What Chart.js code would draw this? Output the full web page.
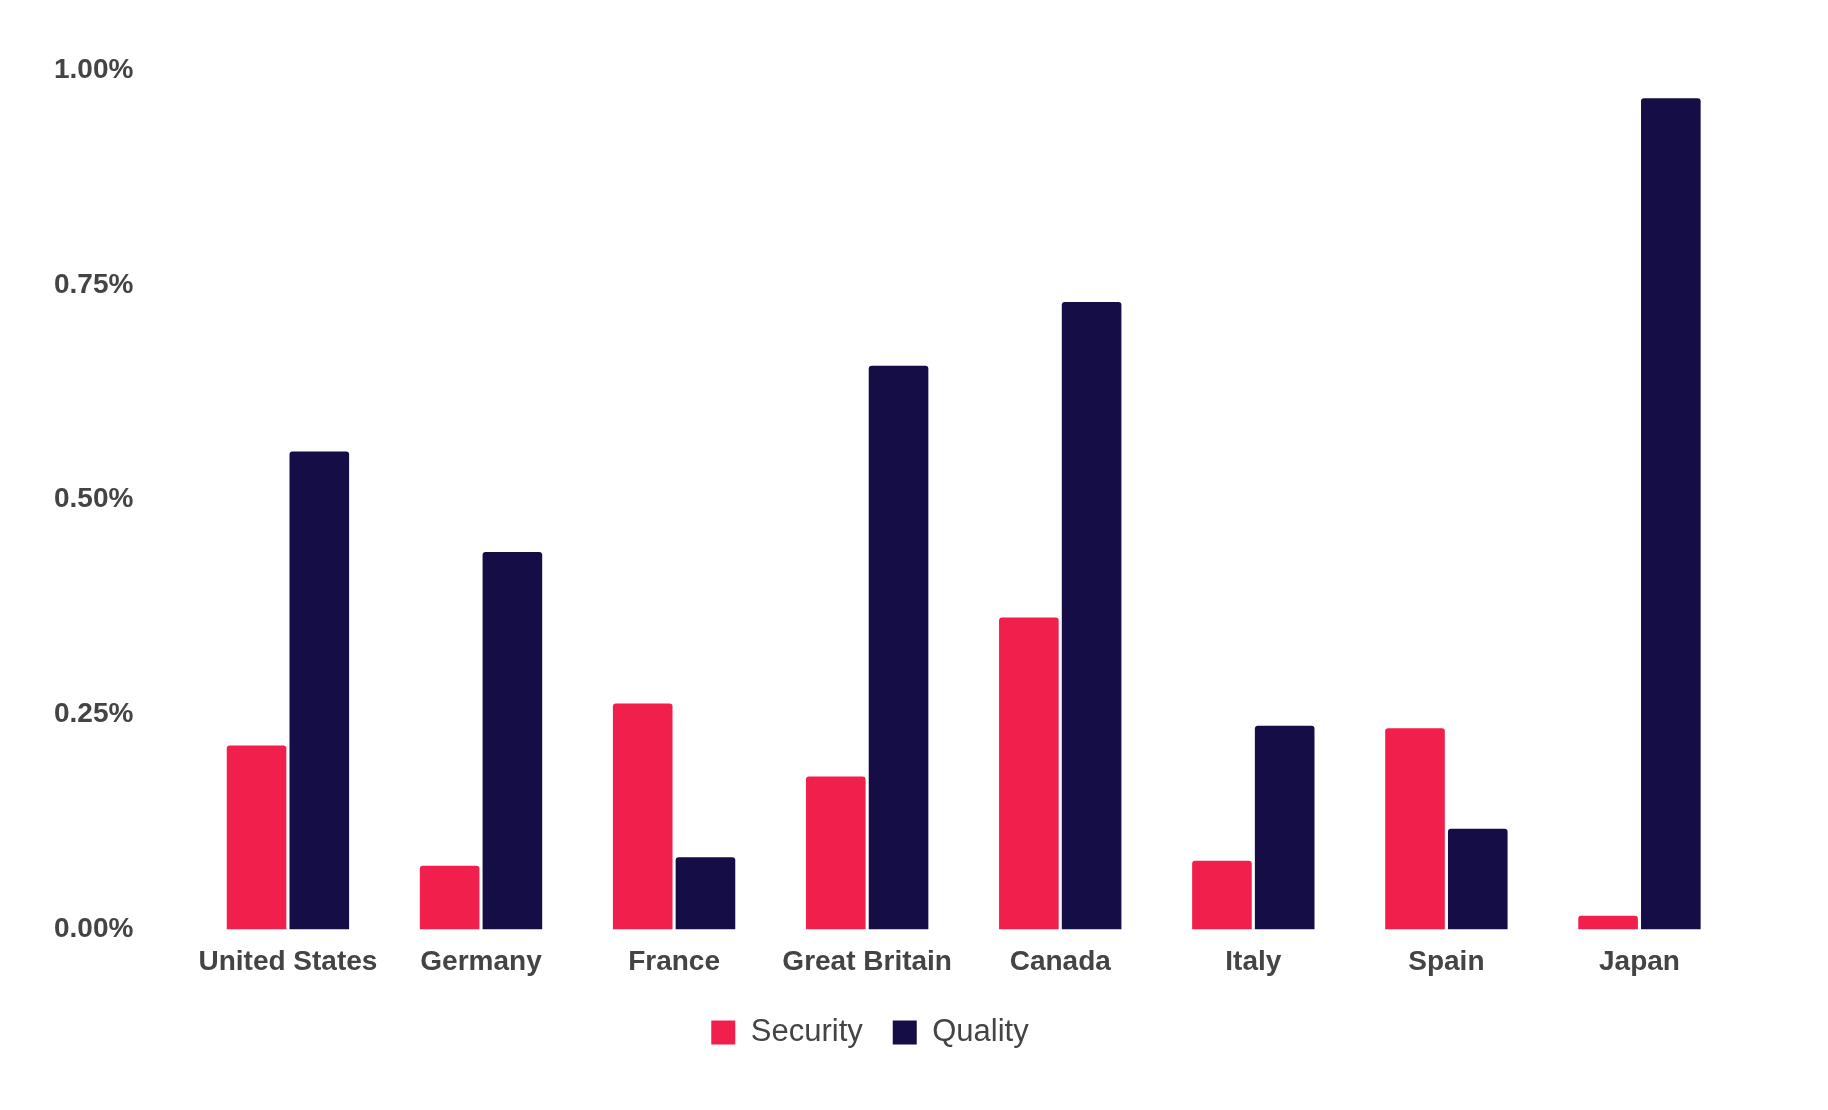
<!DOCTYPE html>
<html>
<head>
<meta charset="utf-8">
<script src="https://cdn.jsdelivr.net/npm/chart.js@4"></script>
<style>
  html, body { margin: 0; background: #fff; }
  #wrap { width: 1828px; height: 1110px; }
</style>
</head>
<body>
<div id="wrap"><canvas id="chart"></canvas></div>
<script>
// Data
const countries = ['United States', 'Germany', 'France', 'Great Britain', 'Canada', 'Italy', 'Spain', 'Japan'];
const security = [0.214, 0.074, 0.263, 0.178, 0.363, 0.080, 0.234, 0.016];
const quality = [0.556, 0.439, 0.084, 0.656, 0.730, 0.237, 0.117, 0.967];
const yTicks = [0, 0.25, 0.5, 0.75, 1.0];

Chart.defaults.font.family = '"Liberation Sans", Arial, sans-serif';

new Chart(document.getElementById('chart').getContext('2d'), {
  type: 'bar',
  data: {
    labels: countries,
    datasets: [
      {label: 'Security', data: security, backgroundColor: '#f01f4b', borderRadius: {topLeft: 3, topRight: 3}, borderSkipped: 'bottom'},
      {label: 'Quality', data: quality, backgroundColor: '#150d45', borderRadius: {topLeft: 3, topRight: 3}, borderSkipped: 'bottom'}
    ]
  },
  options: {
    responsive: true,
    maintainAspectRatio: false,
    animation: false,
    layout: {padding: {left: 4, right: 92, top: 70, bottom: 52}},
    datasets: {bar: {categoryPercentage: 0.65, barPercentage: 0.95}},
    plugins: {
      legend: {
        position: 'bottom',
        labels: {color: '#444', font: {size: 31}, boxWidth: 24, boxHeight: 24, padding: 30}
      },
      tooltip: {enabled: false}
    },
    scales: {
      x: {
        grid: {display: false},
        border: {display: false},
        ticks: {color: '#444', font: {size: 28, weight: 'bold'}, maxRotation: 0, padding: 8}
      },
      y: {
        min: 0, max: 1,
        afterBuildTicks: axis => { axis.ticks = yTicks.map(v => ({value: v})); },
        grid: {display: false},
        border: {display: false},
        ticks: {
          color: '#444', font: {size: 28, weight: 'bold'}, padding: 50,
          callback: v => v.toFixed(2) + '%'
        }
      }
    }
  }
});
</script>
</body>
</html>
